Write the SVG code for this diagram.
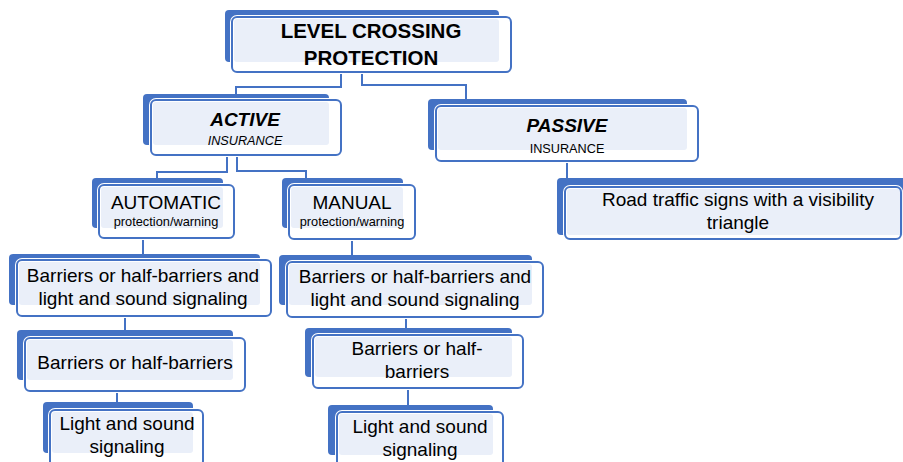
<svg xmlns="http://www.w3.org/2000/svg" width="903" height="462" viewBox="0 0 903 462">
<style>
.back{fill:#4472C4}
.front{fill:#FFFFFF;stroke:#FFFFFF;stroke-width:4}
.pale{fill:#EAEFF9}
.edge{fill:none;stroke:#4472C4;stroke-width:2}
.conn{fill:none;stroke:#4472C4;stroke-width:2}
text{font-family:"Liberation Sans",Arial,sans-serif;fill:#000;text-anchor:middle}
.t{font-size:19px}
.title{font-size:20.5px;font-weight:bold}
.head{font-size:19px;font-weight:bold;font-style:italic}
.sub{font-size:12.7px}
.small{font-size:12.8px}
</style>
<rect width="903" height="462" fill="#FFFFFF"/>
<g id="connectors">
<path class="conn" d="M341 72 V87 H236 V94"/>
<path class="conn" d="M362 72 V85 H466 V99"/>
<path class="conn" d="M227 155 V172 H157 V178"/>
<path class="conn" d="M237 155 V171 H306 V178"/>
<path class="conn" d="M567 161 V178"/>
<path class="conn" d="M143 238 V254"/>
<path class="conn" d="M352 239 V255"/>
<path class="conn" d="M125 316 V330"/>
<path class="conn" d="M406 317 V328"/>
<path class="conn" d="M117 391 V402"/>
<path class="conn" d="M408 388 V405"/>
</g>
<g id="level-crossing-protection">
<rect class="back" x="225" y="10" width="274" height="52" rx="4"/>
<rect class="front" x="232" y="17" width="279" height="55" rx="5"/>
<rect class="pale" x="234" y="19" width="265" height="43" rx="3"/>
<rect class="edge" x="232" y="17" width="279" height="55" rx="5"/>
<text class="title" x="371" y="38">LEVEL CROSSING</text>
<text class="title" x="371" y="65">PROTECTION</text>
</g>
<g id="active">
<rect class="back" x="143" y="94" width="186" height="51" rx="4"/>
<rect class="front" x="151" y="100" width="190" height="55" rx="5"/>
<rect class="pale" x="153" y="102" width="176" height="43" rx="3"/>
<rect class="edge" x="151" y="100" width="190" height="55" rx="5"/>
<text class="head" x="245" y="126">ACTIVE</text>
<text class="sub" x="245" y="145" font-style="italic">INSURANCE</text>
</g>
<g id="passive">
<rect class="back" x="428" y="99" width="259" height="51" rx="4"/>
<rect class="front" x="436" y="106" width="262" height="55" rx="5"/>
<rect class="pale" x="438" y="108" width="249" height="42" rx="3"/>
<rect class="edge" x="436" y="106" width="262" height="55" rx="5"/>
<text class="head" x="567" y="132">PASSIVE</text>
<text class="sub" x="567" y="153">INSURANCE</text>
</g>
<g id="automatic">
<rect class="back" x="92" y="178" width="131" height="50" rx="4"/>
<rect class="front" x="99" y="185" width="135" height="53" rx="5"/>
<rect class="pale" x="101" y="187" width="122" height="41" rx="3"/>
<rect class="edge" x="99" y="185" width="135" height="53" rx="5"/>
<text class="t" x="166" y="209" font-size="18.3">AUTOMATIC</text>
<text class="small" x="166" y="226">protection/warning</text>
</g>
<g id="manual">
<rect class="back" x="282" y="178" width="121" height="50" rx="4"/>
<rect class="front" x="289" y="185" width="126" height="54" rx="5"/>
<rect class="pale" x="291" y="187" width="112" height="41" rx="3"/>
<rect class="edge" x="289" y="185" width="126" height="54" rx="5"/>
<text class="t" x="352" y="209" font-size="18.3">MANUAL</text>
<text class="small" x="352" y="226">protection/warning</text>
</g>
<g id="road-traffic-signs">
<rect class="back" x="557" y="178" width="350" height="57" rx="4"/>
<rect class="front" x="565" y="187" width="336" height="52" rx="5"/>
<rect class="pale" x="567" y="189" width="336" height="46" rx="3"/>
<rect class="edge" x="565" y="187" width="336" height="52" rx="5"/>
<text class="t" x="738" y="206">Road traffic signs with a visibility</text>
<text class="t" x="738" y="229">triangle</text>
</g>
<g id="auto-barriers-light-sound">
<rect class="back" x="9" y="254" width="251" height="51" rx="4"/>
<rect class="front" x="17" y="260" width="254" height="56" rx="5"/>
<rect class="pale" x="19" y="262" width="241" height="43" rx="3"/>
<rect class="edge" x="17" y="260" width="254" height="56" rx="5"/>
<text class="t" x="143" y="282">Barriers or half-barriers and</text>
<text class="t" x="143" y="305">light and sound signaling</text>
</g>
<g id="manual-barriers-light-sound">
<rect class="back" x="279" y="255" width="253" height="50" rx="4"/>
<rect class="front" x="287" y="262" width="256" height="55" rx="5"/>
<rect class="pale" x="289" y="264" width="243" height="41" rx="3"/>
<rect class="edge" x="287" y="262" width="256" height="55" rx="5"/>
<text class="t" x="415" y="283">Barriers or half-barriers and</text>
<text class="t" x="415" y="306">light and sound signaling</text>
</g>
<g id="auto-barriers">
<rect class="back" x="17" y="330" width="216" height="50" rx="4"/>
<rect class="front" x="25" y="338" width="220" height="53" rx="5"/>
<rect class="pale" x="27" y="340" width="206" height="40" rx="3"/>
<rect class="edge" x="25" y="338" width="220" height="53" rx="5"/>
<text class="t" x="135" y="369">Barriers or half-barriers</text>
</g>
<g id="manual-barriers">
<rect class="back" x="305" y="328" width="207" height="49" rx="4"/>
<rect class="front" x="313" y="335" width="210" height="53" rx="5"/>
<rect class="pale" x="315" y="337" width="197" height="40" rx="3"/>
<rect class="edge" x="313" y="335" width="210" height="53" rx="5"/>
<text class="t" x="417" y="355">Barriers or half-</text>
<text class="t" x="417" y="378">barriers</text>
</g>
<g id="auto-light-sound">
<rect class="back" x="43" y="402" width="150" height="51" rx="4"/>
<rect class="front" x="50" y="410" width="153" height="56" rx="5"/>
<rect class="pale" x="52" y="412" width="141" height="41" rx="3"/>
<rect class="edge" x="50" y="410" width="153" height="56" rx="5"/>
<text class="t" x="127" y="430">Light and sound</text>
<text class="t" x="127" y="453">signaling</text>
</g>
<g id="manual-light-sound">
<rect class="back" x="328" y="405" width="165" height="50" rx="4"/>
<rect class="front" x="337" y="412" width="166" height="56" rx="5"/>
<rect class="pale" x="339" y="414" width="154" height="41" rx="3"/>
<rect class="edge" x="337" y="412" width="166" height="56" rx="5"/>
<text class="t" x="420" y="433">Light and sound</text>
<text class="t" x="420" y="456">signaling</text>
</g>
</svg>
